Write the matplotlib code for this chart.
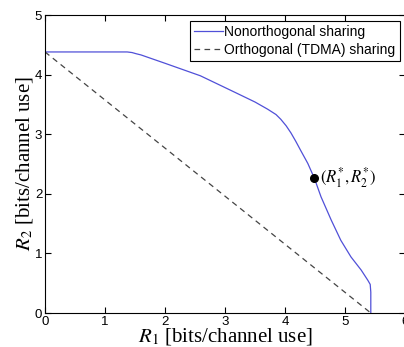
import numpy as np
import matplotlib.pyplot as plt

# capacity region boundary
r1_non = [0.0, 1.0, 1.37, 1.45, 1.52, 1.6, 2.0, 2.59, 3.15, 3.5, 3.71, 3.85, 3.93,
          4.02, 4.10, 4.18, 4.26, 4.38, 4.49, 4.60, 4.77, 4.93, 5.10, 5.27, 5.38,
          5.42, 5.43, 5.43]
r2_non = [4.38, 4.38, 4.38, 4.37, 4.35, 4.33, 4.19, 3.98, 3.71, 3.54, 3.42, 3.33, 3.25,
          3.14, 3.02, 2.88, 2.73, 2.51, 2.26, 1.95, 1.56, 1.22, 0.94, 0.72, 0.55,
          0.48, 0.35, 0.0]
r1_tdma = [0.0, 5.43]
r2_tdma = [4.38, 0.0]
r_star = (4.49, 2.26)

plt.rcParams['mathtext.fontset'] = 'stix'

fig = plt.figure(figsize=(4.04, 3.47), dpi=100)
ax = fig.add_axes([45/404, 34/347, 360/404, 298/347])

ax.plot(r1_non, r2_non, color='#5050d8', lw=0.9, label='Nonorthogonal sharing')
ax.plot(r1_tdma, r2_tdma, color='#444444', lw=0.9, ls=(0, (4.5, 3.5)),
        label='Orthogonal (TDMA) sharing')
ax.plot(*r_star, 'o', color='black', ms=5.5)
ax.text(r_star[0] + 0.1, r_star[1] + 0.02, r'$(R_1^{*}, R_2^{*})$', fontsize=12,
        family='Liberation Serif', va='center')

ax.set_xlim(0, 6)
ax.set_ylim(0, 5)
ax.set_xticks(range(7))
ax.set_yticks(range(6))
ax.tick_params(direction='in', top=True, right=True, length=4, width=0.8,
               labelsize=9.5, pad=2)
for lab in ax.get_xticklabels() + ax.get_yticklabels():
    lab.set_family('Liberation Sans')

ax.set_xlabel(r'$R_1$ [bits/channel use]', fontsize=15, family='Liberation Serif',
              labelpad=-1)
ax.set_ylabel(r'$R_2$ [bits/channel use]', fontsize=15, family='Liberation Serif',
              labelpad=0)

leg = ax.legend(loc='upper right', bbox_to_anchor=(0.985, 0.98), fancybox=False,
                edgecolor='black', framealpha=1, borderpad=0.3, labelspacing=0.25,
                handlelength=2.1, handletextpad=0.1, borderaxespad=0,
                prop={'family': 'Liberation Sans', 'size': 10})
leg.get_frame().set_linewidth(0.8)

fig.savefig('out.png', dpi=100)
